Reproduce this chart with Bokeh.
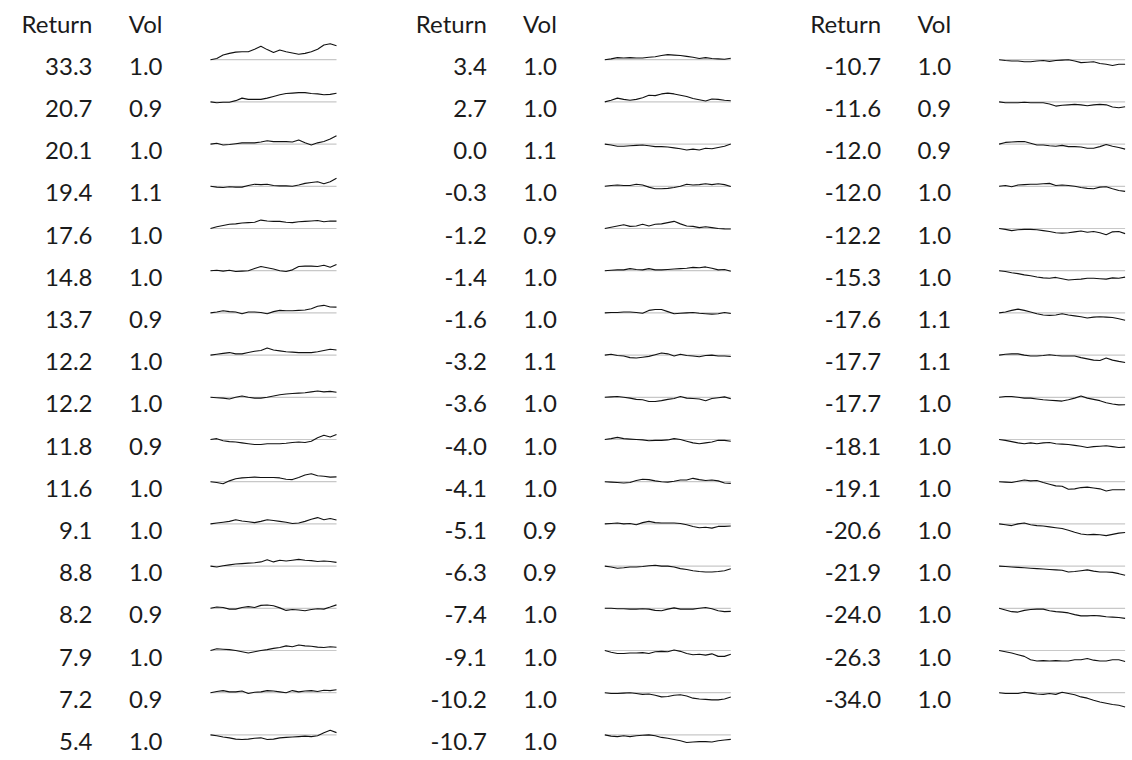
from bokeh.plotting import figure
from bokeh.models import Range1d, ColumnDataSource
from bokeh.embed import file_html
from bokeh.resources import INLINE
from bokeh.core.properties import value

# ---------------- data ----------------
returns_col1 = [33.3, 20.7, 20.1, 19.4, 17.6, 14.8, 13.7, 12.2, 12.2, 11.8, 11.6, 9.1, 8.8, 8.2, 7.9, 7.2, 5.4]
vols_col1 = [1.0, 0.9, 1.0, 1.1, 1.0, 1.0, 0.9, 1.0, 1.0, 0.9, 1.0, 1.0, 1.0, 0.9, 1.0, 0.9, 1.0]
returns_col2 = [3.4, 2.7, 0.0, -0.3, -1.2, -1.4, -1.6, -3.2, -3.6, -4.0, -4.1, -5.1, -6.3, -7.4, -9.1, -10.2, -10.7]
vols_col2 = [1.0, 1.0, 1.1, 1.0, 0.9, 1.0, 1.0, 1.1, 1.0, 1.0, 1.0, 0.9, 0.9, 1.0, 1.0, 1.0, 1.0]
returns_col3 = [-10.7, -11.6, -12.0, -12.0, -12.2, -15.3, -17.6, -17.7, -17.7, -18.1, -19.1, -20.6, -21.9, -24.0, -26.3, -34.0]
vols_col3 = [1.0, 0.9, 0.9, 1.0, 1.0, 1.0, 1.1, 1.1, 1.0, 1.0, 1.0, 1.0, 1.0, 1.0, 1.0, 1.0]

# cumulative return paths (%)
paths_col1 = [
    [0, 3, 11, 15, 18, 19, 19, 25, 32, 24, 17, 23, 19, 16, 13, 15, 19, 25, 35, 38, 33.3],
    [0, -2, -1, -1, 3, 9, 6, 6, 6, 9, 13, 17, 20, 21, 22, 22, 20, 19, 17, 18, 20.7],
    [0, 2, -2, -1, 1, 3, 3, 3, 5, 8, 6, 6, 6, 5, 10, 3, -2, 3, 6, 12, 20.1],
    [0, -2, -3, -1, -2, -2, 2, 5, 4, 5, 2, 1, 1, 0, 3, 7, 9, 11, 6, 11, 19.4],
    [0, 4, 7, 10, 11, 13, 14, 15, 20, 18, 17, 17, 15, 14, 16, 17, 18, 19, 16, 18, 17.6],
    [0, 1, -1, 1, -2, -1, 0, 5, 10, 7, 4, 0, -2, 2, 10, 11, 11, 10, 13, 8, 14.8],
    [0, 2, 5, 3, 2, -2, 2, 2, 1, -2, 3, 6, 5, 5, 6, 7, 10, 16, 18, 14, 13.7],
    [0, 2, 4, 6, 3, 3, 6, 9, 11, 17, 12, 10, 8, 7, 6, 6, 6, 8, 11, 14, 12.2],
    [0, -1, -2, -4, 0, 3, 0, -2, -2, 0, 3, 6, 8, 9, 10, 11, 13, 15, 13, 14, 12.2],
    [0, 2, -3, -5, -6, -8, -10, -12, -12, -10, -10, -10, -9, -7, -6, -7, -4, 4, 10, 6, 11.8],
    [0, -2, -5, 2, 7, 9, 10, 11, 10, 10, 10, 9, 6, 5, 10, 16, 19, 14, 13, 11, 11.6],
    [0, 2, 4, 6, 10, 7, 5, 3, 6, 10, 8, 6, 4, 1, 2, 6, 11, 15, 10, 13, 9.1],
    [0, -2, 1, 3, 5, 6, 7, 8, 10, 15, 10, 14, 12, 14, 16, 14, 13, 11, 12, 11, 8.8],
    [0, 3, 2, -2, -2, 2, 4, 2, 7, 8, 6, 1, -5, -3, -4, -6, -3, -1, -2, 3, 8.2],
    [0, 4, 3, 2, 0, -3, -6, -3, 0, 2, 5, 7, 11, 9, 13, 11, 10, 8, 7, 9, 7.9],
    [0, 3, 5, 2, 2, 4, -2, 1, 2, 5, 4, 2, 0, 5, 2, 4, 5, 3, 6, 5, 7.2],
    [0, -2, -5, -7, -10, -11, -10, -8, -7, -11, -10, -7, -6, -5, -4, -3, -4, -2, 5, 11, 5.4],
]
paths_col2 = [
    [0, 2, 5, 4, 5, 4, 4, 6, 7, 10, 12, 11, 10, 8, 6, 3, 5, 3, 2, 1, 3.4],
    [0, 4, 9, 6, 4, 6, 10, 16, 15, 19, 21, 19, 16, 13, 8, 5, 2, 7, 6, 4, 2.7],
    [0, -2, -5, -5, -4, -3, -2, -4, -6, -6, -7, -9, -11, -14, -12, -14, -10, -11, -8, -5, 0.0],
    [0, 2, 3, 2, 2, 5, 3, -2, -6, -6, -5, -3, 0, 5, 3, 4, 6, 4, 6, 4, -0.3],
    [0, 3, 6, 9, 5, 6, 10, 6, 10, 11, 14, 17, 11, 6, 5, 2, 4, 2, 0, -1, -1.2],
    [0, 1, 2, 2, 5, 3, 2, 5, 2, 2, 3, 4, 5, 6, 8, 7, 9, 6, 2, 3, -1.4],
    [0, 1, 1, 2, 2, 1, -1, 6, 8, 8, 3, -2, -1, 0, 1, -1, -2, -3, -2, 1, -1.6],
    [0, 2, -1, -2, -6, -7, -5, -3, 1, 5, 3, -2, 2, -1, -2, -4, -1, 0, -2, -2, -3.2],
    [0, 1, 2, 0, -2, -5, -6, -10, -10, -8, -5, -3, 2, -2, -3, -4, -8, -3, -1, 1, -3.6],
    [0, 2, 5, 2, 1, 0, -1, -3, -2, -2, -1, 2, 0, -4, -8, -10, -8, -6, -2, -2, -4.0],
    [0, -1, -2, -3, -2, 3, 6, 5, 2, 0, -1, 1, 4, 4, 8, 5, 3, 4, 2, -3, -4.1],
    [0, 1, 2, 0, 1, -2, 3, 6, 3, 2, 2, 2, 1, -2, -6, -9, -8, -10, -6, -6, -5.1],
    [0, -2, -5, -4, -2, -2, -1, 1, 2, 0, 0, -2, -6, -8, -11, -13, -14, -14, -13, -11, -6.3],
    [0, 0, -1, -1, -2, -2, -1, -2, -5, -6, -2, 1, -2, -2, -2, 0, 2, -1, -6, -8, -7.4],
    [0, -4, -7, -7, -6, -6, -5, -7, -3, -2, -3, 1, -2, -7, -10, -9, -11, -8, -14, -14, -9.1],
    [0, -2, -2, -1, 0, -2, -4, -3, -6, -10, -9, -6, -5, -8, -13, -15, -16, -17, -17, -15, -10.2],
    [0, -3, -4, -2, -4, -2, -1, 0, -2, -6, -8, -11, -14, -18, -17, -16, -16, -17, -14, -12, -10.7],
]
paths_col3 = [
    [0, -2, -3, -3, -5, -5, -3, -2, -4, -2, -1, 0, -3, -7, -6, -5, -9, -11, -14, -11, -10.7],
    [0, -2, -2, -2, -1, -2, -2, -2, -5, -10, -8, -7, -6, -7, -9, -7, -6, -7, -12, -14, -11.6],
    [0, 4, 5, 6, 6, 2, -2, -2, -4, -5, -3, -6, -6, -7, -10, -10, -6, -1, -5, -8, -12.0],
    [0, 2, -1, 3, 4, 5, 5, 6, 7, 2, 3, 2, 0, -3, -5, -6, -2, -1, -6, -10, -12.0],
    [0, -2, -5, -3, -2, -2, -3, -5, -7, -10, -11, -10, -8, -6, -9, -7, -10, -15, -8, -7, -12.2],
    [0, -2, -5, -7, -10, -12, -15, -17, -18, -16, -19, -22, -21, -20, -18, -18, -19, -20, -17, -18, -15.3],
    [0, 2, 6, 9, 6, 2, -2, -5, -6, -5, -2, -5, -7, -9, -12, -10, -9, -10, -11, -14, -17.6],
    [0, 2, 3, 3, 0, -2, -2, -1, 1, -1, -2, -2, -2, -6, -9, -12, -13, -7, -12, -15, -17.7],
    [0, 2, 2, 0, -2, -2, -4, -6, -7, -8, -9, -6, -2, 3, -2, -5, -8, -13, -16, -18, -17.7],
    [0, -2, -5, -8, -10, -8, -10, -8, -7, -10, -11, -12, -14, -16, -19, -17, -16, -15, -17, -19, -18.1],
    [0, -1, -2, 1, 4, 2, 3, -2, -6, -10, -11, -18, -17, -14, -13, -15, -17, -22, -19, -19, -19.1],
    [0, -2, -4, 0, 2, -2, -4, -5, -7, -9, -11, -15, -20, -24, -26, -25, -26, -28, -25, -22, -20.6],
    [0, -1, -2, -3, -4, -5, -6, -7, -8, -9, -10, -14, -13, -11, -9, -12, -14, -14, -15, -18, -21.9],
    [0, -4, -8, -9, -5, -3, -2, -2, -6, -8, -9, -11, -15, -18, -18, -17, -18, -20, -21, -22, -24.0],
    [0, -3, -6, -10, -14, -22, -25, -24, -25, -24, -25, -25, -22, -22, -19, -23, -25, -25, -22, -22, -26.3],
    [0, -2, -2, -2, 1, -1, -3, -4, -2, -4, 1, -2, -5, -10, -13, -18, -22, -25, -28, -30, -34.0],
]
headers = ["Return", "Vol"]

# ---------------- layout (picture pixels) ----------------
W, H = 1132, 760
COL_STEP = 394.3
RET_RIGHT = 92.0
VOL_RIGHT = 162.0
SPARK_X0 = 210.0
SPARK_W = 126.0
HEADER_MID = 23.0
ROW_STEP = 42.2
SPARK_LIFT = 6.5        # sparkline baseline above the text middle
PX_PER_PCT = 0.42       # vertical scale of sparklines
FONT = "Lato"
FONT_SIZE = "24px"
TEXT_COLOR = "#1b1b1b"

p = figure(width=W, height=H, output_backend="svg", toolbar_location=None,
           title=None, x_range=Range1d(0, W), y_range=Range1d(H, 0),
           min_border=0, min_border_left=0, min_border_right=0,
           min_border_top=0, min_border_bottom=0)
p.axis.visible = False
p.grid.visible = False
p.outline_line_color = None
p.background_fill_color = "white"
p.border_fill_color = "white"

columns = [(returns_col1, vols_col1, paths_col1),
           (returns_col2, vols_col2, paths_col2),
           (returns_col3, vols_col3, paths_col3)]

tx, ty, tt = [], [], []
bx0, bx1, by = [], [], []
lxs, lys = [], []
for c, (rets, vols, paths) in enumerate(columns):
    off = c * COL_STEP
    tx += [off + RET_RIGHT, off + VOL_RIGHT]
    ty += [HEADER_MID, HEADER_MID]
    tt += headers
    for r, (ret, vol, path) in enumerate(zip(rets, vols, paths)):
        mid = HEADER_MID + 0.5 + ROW_STEP * (r + 1)
        tx += [off + RET_RIGHT, off + VOL_RIGHT]
        ty += [mid, mid]
        tt += [f"{ret:.1f}", f"{vol:.1f}"]
        sb = mid - SPARK_LIFT
        x0 = off + SPARK_X0
        bx0.append(x0)
        bx1.append(x0 + SPARK_W)
        by.append(sb)
        n = len(path) - 1
        lxs.append([x0 + SPARK_W * i / n for i in range(n + 1)])
        lys.append([sb - v * PX_PER_PCT for v in path])

p.segment(x0=bx0, x1=bx1, y0=by, y1=by, line_color="#c8c8c8", line_width=1.2)
p.multi_line(xs=lxs, ys=lys, line_color="#111111", line_width=1.1)

src = ColumnDataSource(dict(x=tx, y=ty, t=tt))
p.text(x="x", y="y", text="t", source=src, text_align="right",
       text_baseline="middle", text_font=value(FONT),
       text_font_size=FONT_SIZE, text_color=TEXT_COLOR)

open("out.html", "w").write(file_html(p, INLINE))
